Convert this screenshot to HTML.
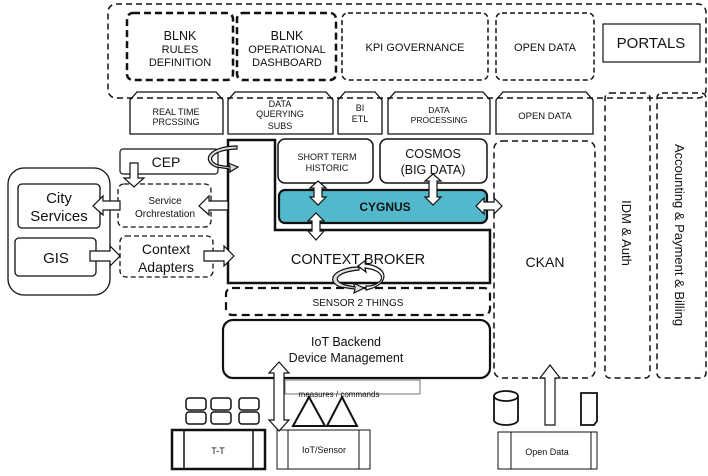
<!DOCTYPE html>
<html><head><meta charset="utf-8"><style>
body{margin:0;background:#fff}
svg{display:block}
text{font-family:"Liberation Sans",Arial,sans-serif;fill:#111;text-anchor:middle}
</style></head><body>
<svg width="708" height="476" viewBox="0 0 708 476" xmlns="http://www.w3.org/2000/svg">
<g fill="none" stroke="#111">
<!-- top dashed container -->
<rect x="108" y="4" width="598" height="94" rx="8" stroke-width="1.5" stroke-dasharray="6,4"/>
<rect x="127" y="13" width="106" height="67" rx="6" stroke-width="2.5" stroke-dasharray="7,4"/>
<rect x="237" y="13" width="99" height="67" rx="6" stroke-width="2.5" stroke-dasharray="7,4"/>
<rect x="342" y="13" width="146" height="67" rx="6" stroke-width="1.5" stroke-dasharray="5,3"/>
<rect x="496" y="13" width="98" height="67" rx="6" stroke-width="1.5" stroke-dasharray="5,3"/>
<rect x="603" y="24" width="97" height="38" stroke-width="1.2"/>
<!-- chamfered row -->
<path d="M130,134 V100 L137,92 H216 L223,100 V134 Z" stroke-width="1.3"/>
<path d="M228,134 V100 L235,92 H326 L333,100 V134 Z" stroke-width="1.3"/>
<path d="M338,134 V100 L345,92 H375 L382,100 V134 Z" stroke-width="1.3"/>
<path d="M388,134 V100 L395,92 H483 L490,100 V134 Z" stroke-width="1.3"/>
<path d="M496,134 V100 L503,92 H586 L593,100 V134 Z" stroke-width="1.3"/>
<!-- IDM, Accounting, CKAN -->
<rect x="605" y="93" width="45" height="285" rx="5" stroke-width="1.5" stroke-dasharray="6,4"/>
<rect x="657" y="93" width="49" height="285" rx="5" stroke-width="1.5" stroke-dasharray="6,4"/>
<rect x="494" y="141" width="101" height="237" rx="8" stroke-width="1.5" stroke-dasharray="6,4"/>
<!-- context broker L shape -->
<path d="M228,140 H275 V230 H490 V283 H228 Z" stroke-width="2.5"/>
<rect x="278" y="139" width="95" height="44" rx="7" stroke-width="1.5"/>
<rect x="380" y="139" width="107" height="44" rx="7" stroke-width="1.5"/>
<rect x="279" y="190" width="208" height="33" rx="6" fill="#52b8cc" stroke-width="2.2"/>
<!-- left -->
<rect x="120" y="149" width="98" height="25" rx="3" stroke-width="1.2"/>
<rect x="118" y="184" width="93" height="43" rx="6" stroke-width="1.3" stroke-dasharray="5,3"/>
<rect x="120" y="236" width="93" height="41" rx="6" stroke-width="1.3" stroke-dasharray="5,3"/>
<rect x="8" y="168" width="102" height="127" rx="16" stroke-width="1.3"/>
<rect x="18" y="184" width="82" height="44" rx="4" stroke-width="1.3"/>
<rect x="15" y="238" width="81" height="38" rx="4" stroke-width="1.3"/>
<!-- sensor 2 things / iot backend -->
<rect x="226" y="288" width="264" height="27" rx="6" stroke-width="2.2" stroke-dasharray="8,5"/>
<rect x="223" y="320" width="267" height="58" rx="10" stroke-width="2.2"/>
<rect x="285" y="380" width="135" height="14" stroke-width="0.8" stroke="#555"/>
<!-- bottom devices -->
<rect x="172" y="430" width="93" height="39" stroke-width="2.5"/>
<line x1="184" y1="430" x2="184" y2="469" stroke-width="1.5"/><line x1="253" y1="430" x2="253" y2="469" stroke-width="1.5"/>
<rect x="277" y="430" width="93" height="39" stroke-width="1"/>
<line x1="288" y1="430" x2="288" y2="469"/><line x1="359" y1="430" x2="359" y2="469"/>
<rect x="498" y="432" width="99" height="37" stroke-width="1"/>
<line x1="511" y1="432" x2="511" y2="469"/><line x1="591" y1="432" x2="591" y2="469"/>
<g stroke-width="1.5">
<rect x="186" y="398" width="20" height="12" rx="3"/><rect x="186" y="412" width="20" height="12" rx="3"/>
<rect x="211" y="398" width="20" height="12" rx="3"/><rect x="211" y="412" width="20" height="12" rx="3"/>
<rect x="239" y="398" width="20" height="12" rx="3"/><rect x="239" y="412" width="20" height="12" rx="3"/>
</g>
<path d="M293,426 L309,397 L325,426 Z M327,426 L342,397 L357,426 Z" stroke-width="2"/>
<path d="M494,396 V420 A12,5 0 0 0 518,420 V396" stroke-width="1.8"/>
<ellipse cx="506" cy="396" rx="12" ry="5" stroke-width="1.8"/>
<path d="M581,393 H597 V421 L594,425 H581 Z" stroke-width="1.8"/>
</g>
<!-- block arrows -->
<g fill="#fff" stroke="#111" stroke-width="1.2">
<!-- CEP down into orchestration -->
<polygon points="130,163 138,163 138,178 144,178 134,187 124,178 130,178"/>
<!-- orchestration -> city services -->
<polygon points="120,201 103,201 103,196 93,206 103,215 103,210 120,210"/>
<!-- GIS -> context adapters -->
<polygon points="90,251 110,251 110,246 120,256 110,266 110,261 90,261"/>
<!-- context adapters -> broker -->
<polygon points="204,251 224,251 224,246 234,256 224,266 224,261 204,261"/>
<!-- broker -> orchestration -->
<polygon points="228,201 209,201 209,196 199,206 209,215 209,210 228,210"/>
<!-- double arrows vertical -->
<polygon points="318,181 326,188 322,188 322,197 326,197 318,205 310,197 314,197 314,188 310,188"/>
<polygon points="433,174 441,181 437,181 437,197 441,197 433,205 425,197 429,197 429,181 425,181"/>
<polygon points="316,213 324,221 320,221 320,231 324,231 316,240 308,231 312,231 312,221 308,221"/>
<!-- cygnus <-> ckan -->
<polygon points="476,206 484,198 484,202 494,202 494,198 502,206 494,214 494,210 484,210 484,214"/>
<!-- iot vertical double -->
<polygon points="279,362 289,373 284,373 284,420 289,420 279,431 269,420 274,420 274,373 269,373"/>
<!-- open data up -->
<polygon points="545,425 545,378 540,378 550,365 560,378 555,378 555,425"/>
</g>
<!-- curved arrows (CEP) -->
<g fill="#ddd" stroke="#111" stroke-width="1.2">
<path d="M237,149 C212,150 205,160 218,165 L230,167 L228,163 L238,167 L230,172 L230,169 L216,167 C200,160 210,146 237,146 Z"/>
<path d="M359,270 C338,272 330,280 345,285 L355,287 L353,283 L364,288 L354,293 L355,289 L340,287 C324,280 336,267 359,267 Z"/>
<path d="M365,268 C384,270 388,282 370,286 L366,286 L366,290 C392,284 388,266 365,264 L366,260 L358,266 L366,272 Z" fill="#fff"/>
</g>
<!-- texts -->
<g font-size="11">
<text x="180" y="40" font-size="12.5">BLNK</text><text x="180" y="53">RULES</text><text x="180" y="66">DEFINITION</text>
<text x="287" y="40" font-size="12.5">BLNK</text><text x="287" y="53">OPERATIONAL</text><text x="287" y="66">DASHBOARD</text>
<text x="415" y="51">KPI GOVERNANCE</text>
<text x="545" y="51">OPEN DATA</text>
<text x="651" y="48" font-size="15">PORTALS</text>
<text x="176" y="115" font-size="9">REAL TIME</text><text x="176" y="125" font-size="9">PRCSSING</text>
<text x="280" y="107" font-size="9">DATA</text><text x="280" y="117" font-size="9">QUERYING</text><text x="280" y="129" font-size="9">SUBS</text>
<text x="360" y="111" font-size="9">BI</text><text x="360" y="122" font-size="9">ETL</text>
<text x="439" y="113" font-size="8.5">DATA</text><text x="439" y="123" font-size="8.5">PROCESSING</text>
<text x="545" y="119" font-size="9.5">OPEN DATA</text>
<text x="166" y="167" font-size="14">CEP</text>
<text x="165" y="204" font-size="10">Service</text><text x="165" y="217" font-size="10">Orchrestation</text>
<text x="166" y="254" font-size="14">Context</text><text x="166" y="272" font-size="14">Adapters</text>
<text x="59" y="203" font-size="15">City</text><text x="59" y="221" font-size="15">Services</text>
<text x="56" y="263" font-size="15">GIS</text>
<text x="327" y="160" font-size="9">SHORT TERM</text><text x="327" y="171" font-size="9">HISTORIC</text>
<text x="433" y="158" font-size="12.5">COSMOS</text><text x="433" y="174" font-size="12.5">(BIG DATA)</text>
<text x="385" y="211" font-size="12" font-weight="bold">CYGNUS</text>
<text x="358" y="264" font-size="14.5">CONTEXT BROKER</text>
<text x="358" y="306" font-size="10">SENSOR 2 THINGS</text>
<text x="346" y="346" font-size="12.5">IoT Backend</text><text x="346" y="362" font-size="12.5">Device Management</text>
<text x="339" y="397" font-size="8">measures / commands</text>
<text x="545" y="267" font-size="14">CKAN</text>
<text x="218" y="454" font-size="9">T-T</text>
<text x="324" y="453" font-size="9">IoT/Sensor</text>
<text x="547" y="455" font-size="9">Open Data</text>
<text transform="translate(622,233) rotate(90)" font-size="13">IDM &amp; Auth</text>
<text transform="translate(675,235) rotate(90)" font-size="13">Accounting &amp; Payment &amp;  Billing</text>
</g>
</svg>
</body></html>
